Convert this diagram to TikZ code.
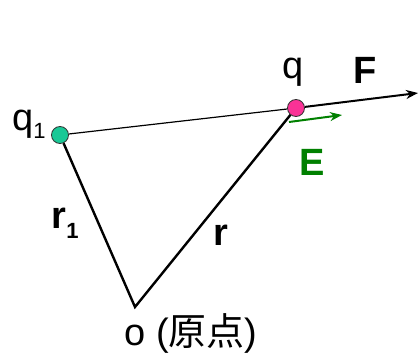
\documentclass[tikz,border=0pt]{standalone}
\usepackage{fontspec}
\setmainfont{Liberation Sans}
\newfontfamily\cjk{Noto Sans CJK SC}
\usetikzlibrary{arrows.meta}
\definecolor{chargegreen}{RGB}{25,200,150}
\definecolor{chargepink}{RGB}{250,50,150}
\definecolor{fieldgreen}{RGB}{0,128,0}
\newcommand{\lowsub}[2]{\raisebox{-#1}{\fontsize{11}{13}\selectfont #2}}

\begin{document}
\begin{tikzpicture}[x=0.5pt, y=0.5pt,
  charge/.style={circle, draw=black!80, line width=0.4pt, inner sep=0pt, minimum size=8.5pt},
  lbl/.style={anchor=base, inner sep=0pt, font=\fontsize{19}{23}\selectfont}]
  \useasboundingbox (0,0) rectangle (419,355);
  \coordinate (o) at (135,48);
  \coordinate (fend) at (418,262);
  \coordinate (estart) at (289,233);
  \coordinate (eend) at (342,240);
  \node[charge, fill=chargegreen] (q1) at (60,220) {};
  \node[charge, fill=chargepink] (q) at (296,247) {};
  \draw[line width=0.6pt] (q1) -- (q);
  \draw[line width=1.2pt] (q1) -- (o) -- (q);
  \draw[line width=1pt, -{Stealth[length=6pt, width=4.5pt]}] (q) -- (fend);
  \draw[fieldgreen, line width=1pt, -{Stealth[length=6pt, width=4.5pt]}] (estart) -- (eend);
  \node[lbl] (q1lbl) at (29,225) {q\lowsub{4pt}{1}};
  \node[lbl] (qlbl) at (293,277) {q};
  \node[lbl] (flbl) at (365,272) {\textbf{F}};
  \node[lbl, text=fieldgreen] (elbl) at (312,180) {\textbf{E}};
  \node[lbl] (r1lbl) at (65,127) {\textbf{r\lowsub{5pt}{1}}};
  \node[lbl] (rlbl) at (221,110) {\textbf{r}};
  \node[lbl] (olbl) at (191,10) {o ({\cjk 原点})};
\end{tikzpicture}
\end{document}
